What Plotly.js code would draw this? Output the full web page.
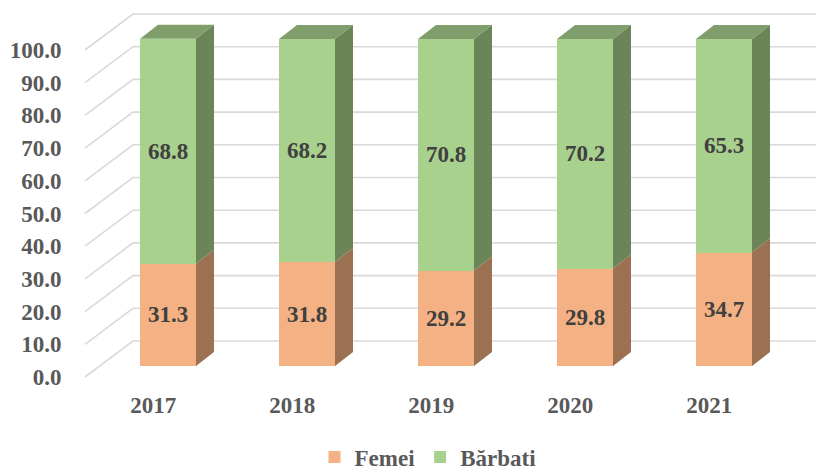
<!DOCTYPE html>
<html>
<head>
<meta charset="utf-8">
<script src="https://cdn.plot.ly/plotly-3.0.1.min.js"></script>
<style>html,body{margin:0;padding:0;background:#fff;}#chart{width:816px;height:470px;}</style>
</head>
<body>
<div id="chart"></div>
<script>
// ---- data ----
const years = ['2017', '2018', '2019', '2020', '2021'];
const femei = [31.3, 31.8, 29.2, 29.8, 34.7];
const barbati = [68.8, 68.2, 70.8, 70.2, 65.3];
const yTicks = [0, 10, 20, 30, 40, 50, 60, 70, 80, 90, 100];

// ---- geometry (pixels of the 816x470 frame) ----
const G = {plotL: 72, plotR: 816, plotT: 10, plotB: 389,
  x0: 168, step: 139, barW: 56, y0: 366, k: 3.27,
  depthX: 18, depthY: 14, wallX: 133, wallY: 341, frontX: 85, frontY: 377, legendY: 457};
const ux = p => (p - G.x0) / G.step;
const vy = p => (G.y0 - p) / G.k;

const bw = G.barW / G.step;
const dxU = G.depthX / G.step;
const dyU = G.depthY / G.k;
const wallDv = (G.y0 - G.wallY) / G.k;
const frontDv = (G.y0 - G.frontY) / G.k;
const xr0 = ux(G.plotL), xr1 = ux(G.plotR);
const yr0 = vy(G.plotB), yr1 = vy(G.plotT);
const labelShift = -((G.frontY - G.y0) * (G.wallX - G.frontX) / (G.frontY - G.wallY)) / G.step;

const C = {fFront: '#F4B183', fSide: '#9C7152', gFront: '#A9D18E', gSide: '#6B8559', gTop: '#7F9E6B',
  grid: '#D9D9D9', axisText: '#595959', dataText: '#404040'};
const FONT = 'Liberation Serif, "Times New Roman", serif';

const idx = years.map((_, i) => i);

// side / top faces
function sidePoly(lo, hi) {
  const xs = [], ys = [];
  idx.forEach(i => {
    const xr = i + bw / 2;
    xs.push(xr, xr + dxU, xr + dxU, xr, xr, null);
    ys.push(lo[i], lo[i] + dyU, hi[i] + dyU, hi[i], lo[i], null);
  });
  return {xs, ys};
}
const zeros = idx.map(() => 0);
const tops = idx.map(i => femei[i] + barbati[i]);
const fSide = sidePoly(zeros, femei);
const gSide = sidePoly(femei, tops);
const topX = [], topY = [];
idx.forEach(i => {
  const xl = i - bw / 2, xr = i + bw / 2, t = tops[i];
  topX.push(xl, xl + dxU, xr + dxU, xr, xl, null);
  topY.push(t, t + dyU, t + dyU, t, t, null);
});

const labelFont = {family: FONT, size: 23, weight: 'bold', color: C.dataText};

const traces = [
  {type: 'bar', name: 'Femei', x: idx, y: femei, width: bw,
   marker: {color: C.fFront, line: {width: 0}},
   text: femei.map(v => v.toFixed(1)), textposition: 'inside', insidetextanchor: 'middle',
   constraintext: 'none', textangle: 0, textfont: labelFont, hoverinfo: 'skip'},
  {type: 'bar', name: 'Bărbati', x: idx, y: barbati, width: bw,
   marker: {color: C.gFront, line: {width: 0}},
   text: barbati.map(v => v.toFixed(1)), textposition: 'inside', insidetextanchor: 'middle',
   constraintext: 'none', textangle: 0, textfont: labelFont, hoverinfo: 'skip'},
  {type: 'scatter', mode: 'lines', x: fSide.xs, y: fSide.ys, fill: 'toself', fillcolor: C.fSide,
   line: {width: 0, color: C.fSide}, showlegend: false, hoverinfo: 'skip'},
  {type: 'scatter', mode: 'lines', x: gSide.xs, y: gSide.ys, fill: 'toself', fillcolor: C.gSide,
   line: {width: 0, color: C.gSide}, showlegend: false, hoverinfo: 'skip'},
  {type: 'scatter', mode: 'lines', x: topX, y: topY, fill: 'toself', fillcolor: C.gTop,
   line: {width: 0, color: C.gTop}, showlegend: false, hoverinfo: 'skip'},
  {type: 'scatter', x: [], y: [], yaxis: 'y2', showlegend: false, hoverinfo: 'skip'}
];

// gridlines on the back wall with the diagonal to the front plane
const shapes = yTicks.map(t => ({
  type: 'path', xref: 'x', yref: 'y', layer: 'below',
  path: `M ${ux(G.frontX)},${t + frontDv} L ${ux(G.wallX)},${t + wallDv} L ${xr1},${t + wallDv}`,
  line: {color: C.grid, width: 1.6}
}));

const axisFont = {family: FONT, size: 23, weight: 'bold', color: C.axisText};

const layout = {
  width: 816, height: 470,
  margin: {l: G.plotL, r: 816 - G.plotR, t: G.plotT, b: 470 - G.plotB, pad: 0, autoexpand: false},
  paper_bgcolor: '#ffffff', plot_bgcolor: 'rgba(0,0,0,0)',
  barmode: 'stack', showlegend: true,
  xaxis: {range: [xr0, xr1], tickvals: idx.map(i => i + labelShift), ticktext: years,
    showgrid: false, zeroline: false, showline: false, ticks: '', tickfont: axisFont, fixedrange: true},
  yaxis: {range: [yr0, yr1], showgrid: false, zeroline: false, showticklabels: false, ticks: '', fixedrange: true},
  yaxis2: {overlaying: 'y', side: 'left', range: [yr0 - frontDv, yr1 - frontDv],
    tickvals: yTicks, ticktext: yTicks.map(v => v.toFixed(1)),
    showgrid: false, zeroline: false, showline: false, ticks: 'outside', ticklen: 5,
    tickcolor: 'rgba(0,0,0,0)', tickfont: axisFont, fixedrange: true},
  legend: {orientation: 'h', x: (428 - G.plotL) / (G.plotR - G.plotL), xanchor: 'center',
    y: -(G.legendY - G.plotB) / (G.plotB - G.plotT), yanchor: 'middle',
    font: axisFont, itemwidth: 30, traceorder: 'normal'},
  shapes: shapes
};

Plotly.newPlot('chart', traces, layout, {displayModeBar: false, staticPlot: true});
</script>
</body>
</html>
